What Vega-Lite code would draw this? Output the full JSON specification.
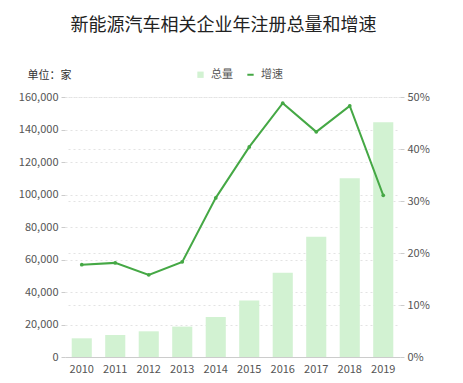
{
  "$schema": "https://vega.github.io/schema/vega-lite/v6.json",
  "width": 335,
  "height": 260,
  "autosize": {"type": "none"},
  "padding": {"left": 65, "top": 97, "right": 63, "bottom": 26},
  "background": "white",
  "title": {
    "text": "新能源汽车相关企业年注册总量和增速",
    "fontSize": 18,
    "font": "Noto Sans CJK SC",
    "fontWeight": "normal",
    "color": "#222222",
    "anchor": "middle",
    "offset": 34,
    "dx": -9
  },
  "config": {
    "font": "Noto Sans CJK SC",
    "view": {"stroke": null}
  },
  "data": {
    "values": [
      {"year": "2010", "total": 11500, "growth": 0.1775},
      {"year": "2011", "total": 13500, "growth": 0.181},
      {"year": "2012", "total": 15800, "growth": 0.158},
      {"year": "2013", "total": 18700, "growth": 0.183},
      {"year": "2014", "total": 24600, "growth": 0.306},
      {"year": "2015", "total": 34700, "growth": 0.404},
      {"year": "2016", "total": 51900, "growth": 0.488},
      {"year": "2017", "total": 74000, "growth": 0.433},
      {"year": "2018", "total": 110000, "growth": 0.483},
      {"year": "2019", "total": 144400, "growth": 0.311}
    ]
  },
  "encoding": {
    "x": {
      "field": "year",
      "type": "ordinal",
      "scale": {"paddingInner": 0.4, "paddingOuter": 0.2},
      "axis": {
        "title": null,
        "labelAngle": 0,
        "ticks": false,
        "domainColor": "#cccccc",
        "labelColor": "#555555",
        "labelFontSize": 11,
        "labelPadding": 6
      }
    }
  },
  "layer": [
    {
      "mark": {"type": "bar"},
      "encoding": {
        "y": {
          "field": "total",
          "type": "quantitative",
          "scale": {"domain": [0, 160000]},
          "axis": {
            "orient": "left",
            "values": [0, 20000, 40000, 60000, 80000, 100000, 120000, 140000, 160000],
            "format": ",.0f",
            "title": "单位：家",
            "titleAngle": 0,
            "titleAlign": "left",
            "titleBaseline": "middle",
            "titleX": -38,
            "titleY": -22,
            "titleFontSize": 11,
            "titleFontWeight": "normal",
            "titleColor": "#333333",
            "domain": false,
            "tickColor": "#cccccc",
            "tickSize": 4,
            "labelColor": "#555555",
            "labelFontSize": 11,
            "labelPadding": 3,
            "grid": true,
            "gridColor": "#e3e3e3",
            "gridDash": [2, 3]
          }
        },
        "color": {
          "datum": "总量",
          "type": "nominal",
          "scale": {"domain": ["总量", "增速"], "range": ["#d2f2d2", "#45a845"]},
          "legend": {
            "title": null,
            "orient": "none",
            "legendX": 130,
            "legendY": -28,
            "direction": "horizontal",
            "labelFontSize": 11,
            "labelColor": "#555555",
            "symbolSize": 40,
            "columnPadding": 10,
            "labelOffset": 5,
            "encode": {
              "symbols": {
                "update": {
                  "shape": {"signal": "datum.value === '增速' ? 'stroke' : 'square'"},
                  "strokeWidth": {"signal": "datum.value === '增速' ? 2 : 0"},
                  "stroke": {"signal": "datum.value === '增速' ? '#45a845' : '#d2f2d2'"},
                  "fill": {"signal": "datum.value === '增速' ? '#45a845' : '#d2f2d2'"}
                }
              }
            }
          }
        }
      }
    },
    {
      "mark": {"type": "line", "strokeWidth": 2, "point": {"filled": true, "size": 14}},
      "encoding": {
        "y": {
          "field": "growth",
          "type": "quantitative",
          "scale": {"domain": [0, 0.5]},
          "axis": {
            "orient": "right",
            "values": [0, 0.1, 0.2, 0.3, 0.4, 0.5],
            "format": ".0%",
            "title": null,
            "domain": false,
            "tickColor": "#cccccc",
            "tickSize": 4,
            "labelColor": "#555555",
            "labelFontSize": 11,
            "labelPadding": 3,
            "grid": true,
            "gridColor": "#e3e3e3",
            "gridDash": [2, 3]
          }
        },
        "color": {"datum": "增速", "type": "nominal"}
      }
    }
  ],
  "resolve": {"scale": {"y": "independent"}}
}
